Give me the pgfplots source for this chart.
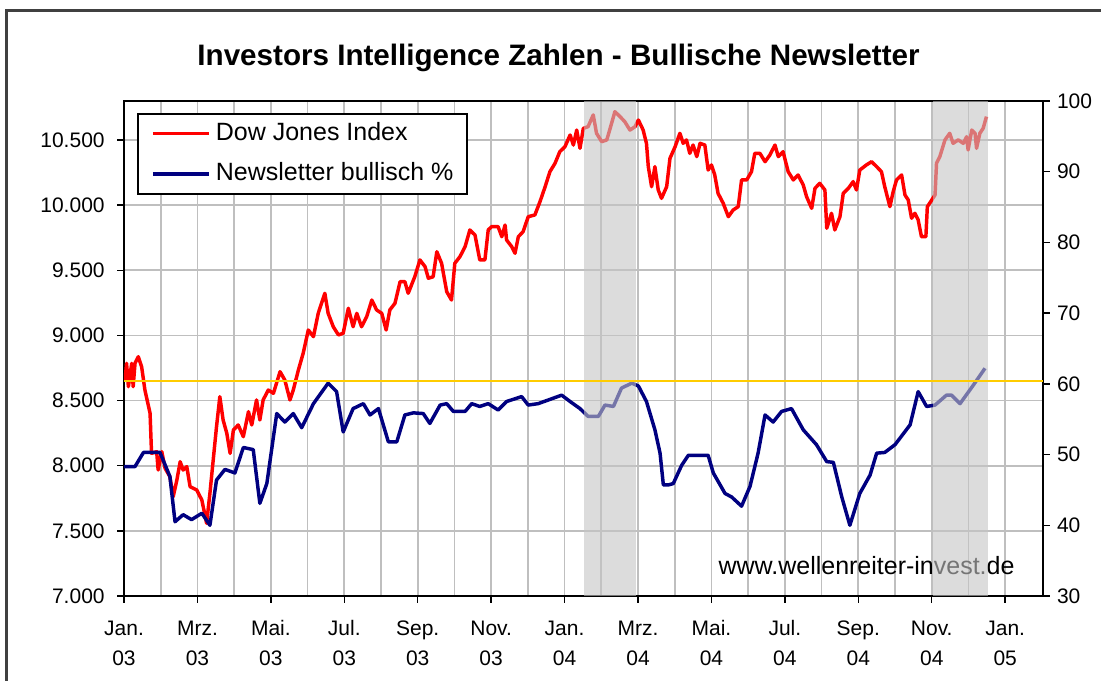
\documentclass[border=0pt]{standalone}
\usepackage{pgfplots}
\pgfplotsset{compat=1.18}
\usepackage{fontspec}
\setmainfont{Liberation Sans}
\definecolor{dowred}{RGB}{255,0,0}
\definecolor{nlblue}{RGB}{0,0,128}
\definecolor{gold}{RGB}{255,204,0}

\pgfplotstableread{
m v
0.03 8658
0.07 8786
0.12 8607
0.21 8786
0.25 8607
0.30 8786
0.39 8837
0.48 8760
0.57 8581
0.71 8403
0.75 8095
0.89 8108
0.93 7967
1.03 8108
1.12 7980
1.25 7916
1.34 7762
1.44 7890
1.53 8031
1.61 7967
1.71 7993
1.80 7839
1.98 7814
2.12 7737
2.25 7558
2.34 7788
2.43 8044
2.52 8300
2.61 8530
2.70 8351
2.80 8249
2.89 8095
2.98 8274
3.11 8313
3.25 8223
3.39 8415
3.48 8313
3.61 8505
3.70 8351
3.79 8505
3.93 8581
4.07 8556
4.25 8722
4.38 8658
4.52 8505
4.61 8581
4.75 8735
4.88 8863
5.02 9042
5.16 8991
5.29 9170
5.47 9324
5.56 9170
5.70 9067
5.84 9004
5.97 9017
6.11 9209
6.24 9067
6.34 9170
6.47 9067
6.61 9144
6.75 9272
6.88 9196
7.02 9170
7.14 9042
7.24 9196
7.38 9247
7.52 9413
7.65 9413
7.74 9324
7.92 9451
8.06 9580
8.20 9528
8.29 9439
8.42 9451
8.52 9643
8.65 9554
8.79 9336
8.92 9272
9.01 9554
9.15 9605
9.29 9682
9.42 9810
9.56 9771
9.69 9580
9.83 9580
9.92 9810
10.01 9835
10.19 9835
10.29 9758
10.38 9848
10.42 9733
10.56 9682
10.65 9631
10.74 9758
10.87 9797
11.01 9912
11.19 9925
11.33 10027
11.47 10142
11.60 10257
11.74 10322
11.87 10411
12.01 10449
12.15 10539
12.24 10462
12.33 10577
12.42 10437
12.51 10590
12.64 10603
12.78 10693
12.87 10552
13.01 10488
13.15 10501
13.28 10629
13.37 10718
13.51 10680
13.64 10641
13.78 10577
13.92 10603
14.01 10654
14.14 10577
14.23 10475
14.28 10296
14.37 10142
14.46 10296
14.55 10117
14.64 10053
14.78 10142
14.87 10360
15.01 10449
15.14 10552
15.23 10475
15.32 10501
15.41 10398
15.50 10462
15.60 10373
15.69 10475
15.82 10462
15.91 10270
16.00 10309
16.09 10232
16.18 10091
16.32 10015
16.46 9912
16.59 9963
16.73 9989
16.82 10194
16.96 10194
17.09 10257
17.18 10398
17.32 10398
17.46 10334
17.59 10385
17.73 10462
17.82 10373
17.95 10411
18.09 10257
18.23 10194
18.36 10232
18.50 10155
18.59 10066
18.73 9976
18.82 10130
18.95 10168
19.09 10117
19.14 9823
19.27 9938
19.36 9810
19.50 9912
19.59 10091
19.73 10130
19.86 10181
19.95 10117
20.04 10270
20.22 10309
20.36 10334
20.50 10296
20.63 10257
20.72 10142
20.86 9989
20.95 10104
21.04 10194
21.18 10232
21.27 10079
21.36 10040
21.45 9900
21.54 9938
21.63 9887
21.72 9758
21.84 9758
21.88 9989
22.00 10040
22.09 10079
22.13 10322
22.22 10373
22.36 10501
22.49 10552
22.58 10475
22.72 10501
22.86 10475
22.95 10526
22.99 10424
23.09 10577
23.18 10552
23.22 10437
23.31 10552
23.40 10590
23.49 10680
}\dowtable

\pgfplotstableread{
m v
0.00 48.3
0.30 48.3
0.53 50.3
0.98 50.3
1.25 46.9
1.39 40.5
1.61 41.5
1.84 40.8
2.12 41.7
2.34 40.0
2.52 46.4
2.75 47.9
3.02 47.4
3.25 51.0
3.52 50.7
3.70 43.1
3.89 45.9
4.16 55.8
4.38 54.6
4.61 55.8
4.84 53.8
5.16 57.2
5.56 60.1
5.79 58.9
5.97 53.2
6.24 56.5
6.52 57.2
6.70 55.6
6.93 56.5
7.20 51.8
7.43 51.8
7.65 55.6
7.88 55.9
8.15 55.8
8.33 54.4
8.61 57.0
8.79 57.2
8.97 56.1
9.29 56.1
9.47 57.2
9.69 56.8
9.92 57.2
10.19 56.3
10.42 57.5
10.83 58.2
11.01 57.0
11.28 57.2
11.60 57.8
11.92 58.4
12.15 57.5
12.42 56.5
12.64 55.4
12.92 55.4
13.10 57.0
13.33 56.8
13.55 59.4
13.83 60.1
14.01 59.7
14.23 57.5
14.46 53.5
14.60 50.2
14.69 45.7
14.82 45.7
14.96 45.9
15.19 48.5
15.37 49.9
15.91 49.9
16.05 47.4
16.37 44.5
16.55 44.0
16.82 42.7
17.05 45.5
17.27 50.2
17.46 55.6
17.68 54.6
17.91 56.1
18.18 56.5
18.50 53.5
18.86 51.4
19.14 49.0
19.32 48.9
19.55 44.0
19.77 40.0
20.04 44.5
20.32 47.1
20.50 50.2
20.72 50.3
21.00 51.4
21.41 54.2
21.63 58.9
21.86 56.8
22.09 57.0
22.40 58.4
22.54 58.4
22.77 57.2
23.13 59.8
23.45 62.2
}\nltable

\begin{document}
\begin{tikzpicture}
\useasboundingbox (0,0) rectangle (825.75pt,510.75pt);
\draw[black!75, line width=2pt] (5pt,0pt) -- (5pt,503pt) -- (830pt,503pt);
\node[font=\bfseries\fontsize{22.2}{26}\selectfont] at (418.9pt,467pt) {Investors Intelligence Zahlen - Bullische Newsletter};

\begin{axis}[
  at={(93pt,63.75pt)}, anchor=south west,
  scale only axis, width=689.25pt, height=371.25pt,
  xmin=0, xmax=25.03, ymin=7000, ymax=10800,
  scaled y ticks=false,
  xtick={0,2,...,24},
  xticklabels={{Jan.\\03},{Mrz.\\03},{Mai.\\03},{Jul.\\03},{Sep.\\03},{Nov.\\03},{Jan.\\04},{Mrz.\\04},{Mai.\\04},{Jul.\\04},{Sep.\\04},{Nov.\\04},{Jan.\\05}},
  minor xtick={1,3,...,23},
  ytick={7000,7500,...,10500},
  yticklabels={7.000,7.500,8.000,8.500,9.000,9.500,10.000,10.500},
  grid=both,
  major grid style={black!25, line width=1.3pt},
  minor grid style={black!25, line width=1.3pt},
  minor tick length=0pt,
  major tick length=5pt,
  tick align=outside,
  tick pos=left,
  axis line style={black, line width=1.3pt},
  major tick style={black, line width=1.1pt},
  tick label style={font=\fontsize{15.75}{22.5}\selectfont},
  xticklabel style={align=center, yshift=-10pt},
  yticklabel style={xshift=-6pt},
]
\addplot[dowred, line width=2.6pt, line join=round] table[x=m,y=v] {\dowtable};
\node[anchor=base, font=\fontsize{18.75}{22}\selectfont] at (rel axis cs:0.808,0.044) {www.wellenreiter-invest.de};
\end{axis}

\begin{axis}[
  at={(93pt,63.75pt)}, anchor=south west,
  scale only axis, width=689.25pt, height=371.25pt,
  xmin=0, xmax=25.03, ymin=30, ymax=100,
  axis x line=none,
  axis y line*=right,
  ytick={30,40,...,100},
  yticklabels={30,40,50,60,70,80,90,100},
  tick align=outside,
  major tick length=5pt,
  axis line style={black, line width=1.3pt},
  major tick style={black, line width=1.1pt},
  tick label style={font=\fontsize{15.75}{22.5}\selectfont},
  yticklabel style={xshift=2pt},
  legend style={at={(0.0141,0.9758)}, anchor=north west, draw=black, line width=1.2pt,
    font=\fontsize{18.75}{22}\selectfont, inner xsep=10pt, inner ysep=6pt,
    nodes={inner sep=0pt, text height=14pt, text depth=4pt}, row sep=12pt,
    /tikz/every odd column/.append style={column sep=4pt}},
  legend cell align=left,
  legend image code/.code={\draw[#1] (0pt,0pt) -- (42pt,0pt);},
]
\addlegendimage{dowred, line width=2.3pt}
\addlegendentry{Dow Jones Index}
\addplot[nlblue, line width=2.6pt, line join=round] table[x=m,y=v] {\nltable};
\addlegendentry{Newsletter bullisch \%}
\fill[black!23, fill opacity=0.6] (axis cs:12.52,30) rectangle (axis cs:13.95,100);
\fill[black!23, fill opacity=0.6] (axis cs:22.03,30) rectangle (axis cs:23.52,100);
\addplot[gold, line width=1.4pt, forget plot] coordinates {(0,60.45) (25.03,60.45)};
\end{axis}
\end{tikzpicture}
\end{document}
